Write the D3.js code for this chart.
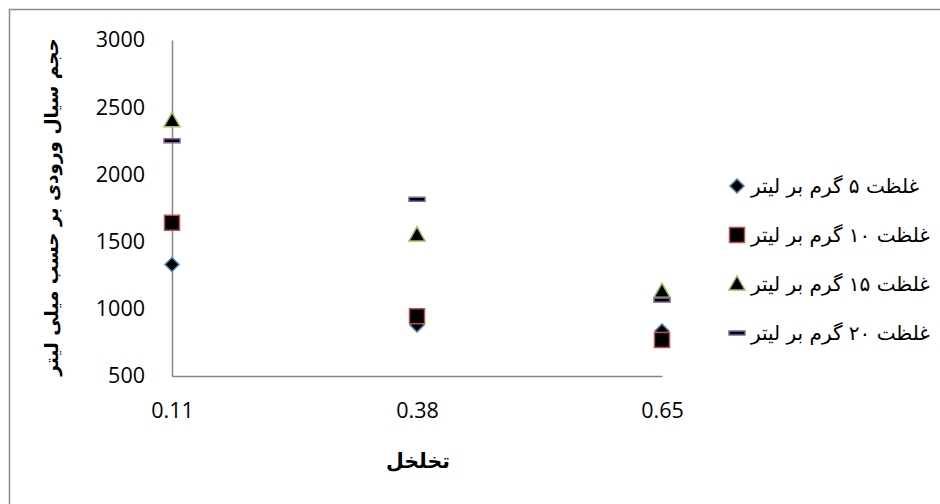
<!DOCTYPE html>
<html>
<head>
<meta charset="utf-8">
<script src="https://cdn.jsdelivr.net/npm/d3@7"></script>
<style>
body{margin:0;background:#fff}
text{font-family:"Open Sans","Liberation Sans",sans-serif}
.fa{font-family:"DejaVu Sans",sans-serif}
</style>
</head>
<body>
<div id="chart"></div>
<script>
var width = 940, height = 504

var xTicks = [0.11, 0.38, 0.65]
var yTicks = [500, 1000, 1500, 2000, 2500, 3000]
var porosity = [0.11, 0.38, 0.65]
var seriesNames = ["غلظت ۵ گرم بر لیتر", "غلظت ۱۰ گرم بر لیتر", "غلظت ۱۵ گرم بر لیتر", "غلظت ۲۰ گرم بر لیتر"]
var c5 = [1330, 880, 835]
var c10 = [1640, 945, 768]
var c15 = [2400, 1550, 1130]
var c20 = [2250, 1815, 1065]
var markers = ["diamond", "square", "triangle", "dash"]
var strokes = ["#4f81bd", "#c0504d", "#9bbb59", "#8064a2"]
var yTitle = "حجم سیال ورودی بر حسب میلی لیتر"
var xTitle = "تخلخل"

var svg = d3.select("#chart").append("svg")
.attr("width", width)
.attr("height", height)

// outer frame
svg.append("rect")
.attr("x", 9.5).attr("y", 9.5)
.attr("width", 940).attr("height", 520)
.attr("fill", "none").attr("stroke", "#8c8c8c").attr("stroke-width", 1.5)

var x = d3.scaleLinear().domain([0.11, 0.65]).range([172, 662])
var y = d3.scaleLinear().domain([500, 3000]).range([376, 40])

var xAxis = svg.append("g")
.attr("transform", "translate(0," + y(500) + ")")
.call(d3.axisBottom(x).tickValues(xTicks).tickSize(0).tickPadding(27).tickFormat(d3.format(".2f")))
var yAxis = svg.append("g")
.attr("transform", "translate(" + x(0.11) + ",0)")
.call(d3.axisLeft(y).tickValues(yTicks).tickSize(0).tickPadding(27).tickFormat(d3.format("d")))

svg.selectAll(".domain").attr("stroke", "#868686").attr("stroke-width", 1.5)
svg.selectAll(".tick text").attr("font-size", 21.5).attr("fill", "#000")
.style("font-family", "'Open Sans','Liberation Sans',sans-serif")

function drawMarker(g, type, stroke) {
  if (type == "diamond") {
    g.append("path").attr("d", "M0,-7L7,0L0,7L-7,0Z")
    .attr("fill", "#000").attr("stroke", stroke).attr("stroke-width", 1.5)
  }
  if (type == "square") {
    g.append("rect").attr("x", -7.5).attr("y", -7.5).attr("width", 15).attr("height", 15)
    .attr("fill", "#000").attr("stroke", stroke).attr("stroke-width", 1.5)
  }
  if (type == "triangle") {
    g.append("path").attr("d", "M0,-8L8,6L-8,6Z")
    .attr("fill", "#000").attr("stroke", stroke).attr("stroke-width", 1.5)
  }
  if (type == "dash") {
    g.append("rect").attr("x", -8).attr("y", -2).attr("width", 16).attr("height", 4)
    .attr("fill", "#000").attr("stroke", stroke).attr("stroke-width", 1.5)
  }
}

var allSeries = [c5, c10, c15, c20]
allSeries.forEach(function(vals, s) {
  svg.append("g").selectAll("g")
  .data(vals)
  .enter()
  .append("g")
  .attr("transform", function(d, i) { return "translate(" + x(porosity[i]) + "," + y(d) + ")" })
  .each(function() { drawMarker(d3.select(this), markers[s], strokes[s]) })
})

// legend
var legY = d3.scalePoint().domain(d3.range(4)).range([186, 333])
seriesNames.forEach(function(name, s) {
  var lg = svg.append("g").attr("transform", "translate(737," + legY(s) + ")")
  drawMarker(lg, markers[s], strokes[s])
  lg.append("text")
  .attr("class", "fa")
  .attr("x", 14).attr("y", 7)
  .attr("direction", "rtl")
  .attr("text-anchor", "end")
  .attr("font-size", 20)
  .text(name)
})

// axis titles
svg.append("text").attr("class", "fa")
.attr("transform", "translate(58,207) rotate(-90)")
.attr("text-anchor", "middle")
.attr("direction", "rtl")
.attr("font-size", 18.5).attr("font-weight", "bold")
.text(yTitle)

svg.append("text").attr("class", "fa")
.attr("x", 418).attr("y", 468)
.attr("text-anchor", "middle")
.attr("direction", "rtl")
.attr("font-size", 20.5).attr("font-weight", "bold")
.text(xTitle)
</script>
</body>
</html>
